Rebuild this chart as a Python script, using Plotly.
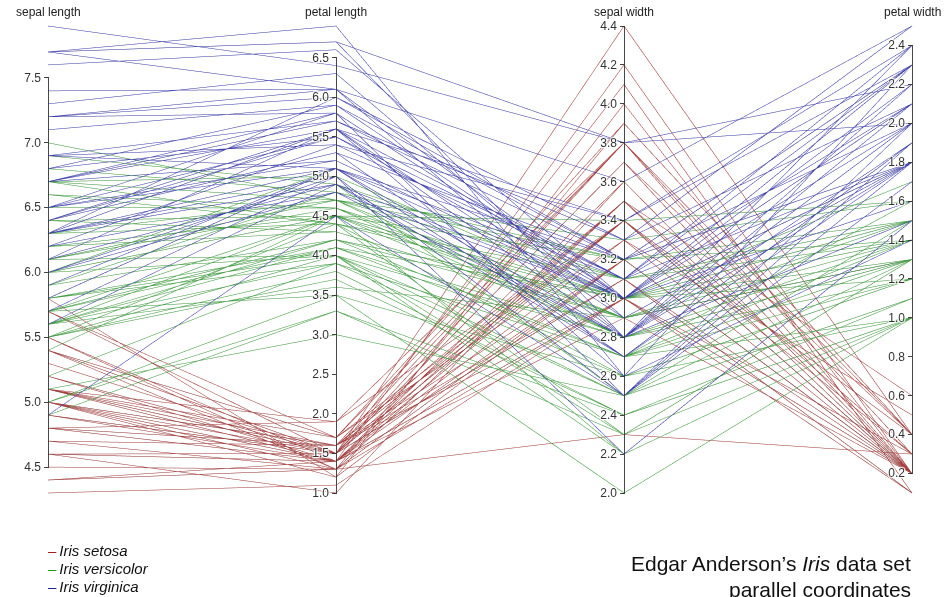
import plotly.graph_objects as go

sepal_length = [5.1,4.9,4.7,4.6,5.0,5.4,4.6,5.0,4.4,4.9,5.4,4.8,4.8,4.3,5.8,5.7,5.4,5.1,5.7,5.1,
                5.4,5.1,4.6,5.1,4.8,5.0,5.0,5.2,5.2,4.7,4.8,5.4,5.2,5.5,4.9,5.0,5.5,4.9,4.4,5.1,
                5.0,4.5,4.4,5.0,5.1,4.8,5.1,4.6,5.3,5.0,
                7.0,6.4,6.9,5.5,6.5,5.7,6.3,4.9,6.6,5.2,5.0,5.9,6.0,6.1,5.6,6.7,5.6,5.8,6.2,5.6,
                5.9,6.1,6.3,6.1,6.4,6.6,6.8,6.7,6.0,5.7,5.5,5.5,5.8,6.0,5.4,6.0,6.7,6.3,5.6,5.5,
                5.5,6.1,5.8,5.0,5.6,5.7,5.7,6.2,5.1,5.7,
                6.3,5.8,7.1,6.3,6.5,7.6,4.9,7.3,6.7,7.2,6.5,6.4,6.8,5.7,5.8,6.4,6.5,7.7,7.7,6.0,
                6.9,5.6,7.7,6.3,6.7,7.2,6.2,6.1,6.4,7.2,7.4,7.9,6.4,6.3,6.1,7.7,6.3,6.4,6.0,6.9,
                6.7,6.9,5.8,6.8,6.7,6.7,6.3,6.5,6.2,5.9]
sepal_width = [3.5,3.0,3.2,3.1,3.6,3.9,3.4,3.4,2.9,3.1,3.7,3.4,3.0,3.0,4.0,4.4,3.9,3.5,3.8,3.8,
               3.4,3.7,3.6,3.3,3.4,3.0,3.4,3.5,3.4,3.2,3.1,3.4,4.1,4.2,3.1,3.2,3.5,3.1,3.0,3.4,
               3.5,2.3,3.2,3.5,3.8,3.0,3.8,3.2,3.7,3.3,
               3.2,3.2,3.1,2.3,2.8,2.8,3.3,2.4,2.9,2.7,2.0,3.0,2.2,2.9,2.9,3.1,3.0,2.7,2.2,2.5,
               3.2,2.8,2.5,2.8,2.9,3.0,2.8,3.0,2.9,2.6,2.4,2.4,2.7,2.7,3.0,3.4,3.1,2.3,3.0,2.5,
               2.6,3.0,2.6,2.3,2.7,3.0,2.9,2.9,2.5,2.8,
               3.3,2.7,3.0,2.9,3.0,3.0,2.5,2.9,2.5,3.6,3.2,2.7,3.0,2.5,2.8,3.2,3.0,3.8,2.6,2.2,
               3.2,2.8,2.8,2.7,3.3,3.2,2.8,3.0,2.8,3.0,2.8,3.8,2.8,2.8,2.6,3.0,3.4,3.1,3.0,3.1,
               3.1,3.1,2.7,3.2,3.3,3.0,2.5,3.0,3.4,3.0]
petal_length = [1.4,1.4,1.3,1.5,1.4,1.7,1.4,1.5,1.4,1.5,1.5,1.6,1.4,1.1,1.2,1.5,1.3,1.4,1.7,1.5,
                1.7,1.5,1.0,1.7,1.9,1.6,1.6,1.5,1.4,1.6,1.6,1.5,1.5,1.4,1.5,1.2,1.3,1.5,1.3,1.5,
                1.3,1.3,1.3,1.6,1.9,1.4,1.6,1.4,1.5,1.4,
                4.7,4.5,4.9,4.0,4.6,4.5,4.7,3.3,4.6,3.9,3.5,4.2,4.0,4.7,3.6,4.4,4.5,4.1,4.5,3.9,
                4.8,4.0,4.9,4.7,4.3,4.4,4.8,5.0,4.5,3.5,3.8,3.7,3.9,5.1,4.5,4.5,4.7,4.4,4.1,4.0,
                4.4,4.6,4.0,3.3,4.2,4.2,4.2,4.3,3.0,4.1,
                6.0,5.1,5.9,5.6,5.8,6.6,4.5,6.3,5.8,6.1,5.1,5.3,5.5,5.0,5.1,5.3,5.5,6.7,6.9,5.0,
                5.7,4.9,6.7,4.9,5.7,6.0,4.8,4.9,5.6,5.8,6.1,6.4,5.6,5.1,5.6,6.1,5.6,5.5,4.8,5.4,
                5.6,5.1,5.1,5.9,5.7,5.2,5.0,5.2,5.4,5.1]
petal_width = [0.2,0.2,0.2,0.2,0.2,0.4,0.3,0.2,0.2,0.1,0.2,0.2,0.1,0.1,0.2,0.4,0.4,0.3,0.3,0.3,
               0.2,0.4,0.2,0.5,0.2,0.2,0.4,0.2,0.2,0.2,0.2,0.4,0.1,0.2,0.1,0.2,0.2,0.1,0.2,0.2,
               0.3,0.3,0.2,0.6,0.4,0.3,0.2,0.2,0.2,0.2,
               1.4,1.5,1.5,1.3,1.5,1.3,1.6,1.0,1.3,1.4,1.0,1.5,1.0,1.4,1.3,1.4,1.5,1.0,1.5,1.1,
               1.8,1.3,1.5,1.2,1.3,1.4,1.4,1.7,1.5,1.0,1.1,1.0,1.2,1.6,1.5,1.6,1.5,1.3,1.3,1.3,
               1.2,1.4,1.2,1.0,1.3,1.2,1.3,1.3,1.1,1.3,
               2.5,1.9,2.1,1.8,2.2,2.1,1.7,1.8,1.8,2.5,2.0,1.9,2.1,2.0,2.4,2.3,1.8,2.2,2.3,1.5,
               2.3,2.0,2.0,1.8,2.1,1.8,1.8,1.8,2.1,1.6,1.9,2.0,2.2,1.5,1.4,2.3,2.4,1.8,1.8,2.1,
               2.4,2.3,1.9,2.3,2.5,2.3,1.9,2.0,2.3,1.8]
species_names = ["Iris setosa", "Iris versicolor", "Iris virginica"]
species_code = [0] * 50 + [1] * 50 + [2] * 50
species_colors = ["#a84040", "#40a040", "#4040b0"]
legend_colors = ["#a02020", "#20a020", "#2020a0"]
dimension_labels = ["sepal length", "petal length", "sepal width", "petal width"]

sl_ticks = [4.5, 5.0, 5.5, 6.0, 6.5, 7.0, 7.5]
pl_ticks = [1.0, 1.5, 2.0, 2.5, 3.0, 3.5, 4.0, 4.5, 5.0, 5.5, 6.0, 6.5]
sw_ticks = [2.0, 2.2, 2.4, 2.6, 2.8, 3.0, 3.2, 3.4, 3.6, 3.8, 4.0, 4.2, 4.4]
pw_ticks = [0.2, 0.4, 0.6, 0.8, 1.0, 1.2, 1.4, 1.6, 1.8, 2.0, 2.2, 2.4]

FONT = "Liberation Sans, Arial, Helvetica, sans-serif"
W, H = 949, 597
ML, MR, MT, MB = 48, 37, 24, 102


def dim(values, ticks):
    return dict(label="", values=values, range=[min(values), max(values)],
                tickvals=ticks, ticktext=[f"{t:.1f}" for t in ticks])


colorscale = [[0.0, species_colors[0]], [0.333, species_colors[0]],
              [0.334, species_colors[1]], [0.666, species_colors[1]],
              [0.667, species_colors[2]], [1.0, species_colors[2]]]

fig = go.Figure(go.Parcoords(
    line=dict(color=species_code, colorscale=colorscale, cmin=0, cmax=2),
    dimensions=[
        dim(sepal_length, sl_ticks),
        dim(petal_length, pl_ticks),
        dim(sepal_width, sw_ticks),
        dim(petal_width, pw_ticks),
    ],
    labelfont=dict(family=FONT, size=12, color="#222"),
    tickfont=dict(family=FONT, size=12, color="#333"),
    rangefont=dict(size=1, color="rgba(0,0,0,0)"),
))

pw, ph = W - ML - MR, H - MT - MB


def px(x):
    return (x - ML) / pw


def py(y):
    return (H - MB - y) / ph


annotations = []
for i, lab in enumerate(dimension_labels):
    annotations.append(dict(
        x=i / 3, y=py(12), xref="paper", yref="paper", showarrow=False,
        text=lab, xanchor="center", yanchor="middle",
        font=dict(family=FONT, size=12, color="#222"),
    ))
for i, (name, col) in enumerate(zip(species_names, legend_colors)):
    annotations.append(dict(
        x=px(46), y=py(550 + 18 * i), xref="paper", yref="paper", showarrow=False,
        text=f"<span style='color:{col}'>–</span>\u2009<i>{name}</i>",
        xanchor="left", yanchor="middle",
        font=dict(family=FONT, size=15, color="#111"),
    ))
annotations.append(dict(
    x=px(913), y=py(563), xref="paper", yref="paper", showarrow=False,
    text="Edgar Anderson’s <i>Iris</i> data set", xanchor="right", yanchor="middle",
    font=dict(family=FONT, size=21, color="#111"),
))
annotations.append(dict(
    x=px(913), y=py(589), xref="paper", yref="paper", showarrow=False,
    text="parallel coordinates", xanchor="right", yanchor="middle",
    font=dict(family=FONT, size=21, color="#111"),
))

fig.update_layout(
    width=W, height=H,
    margin=dict(l=ML, r=MR, t=MT, b=MB),
    paper_bgcolor="white", plot_bgcolor="white",
    annotations=annotations,
)

post = """
document.body.style.margin = '0';
var st = document.createElement('style');
st.textContent = '.parcoords .axis .domain, .parcoords .axis .tick line {stroke: #333 !important; stroke-opacity: 0.9 !important;}';
document.head.appendChild(st);
"""
fig.write_html("out.html", config={"displayModeBar": False}, post_script=post)
